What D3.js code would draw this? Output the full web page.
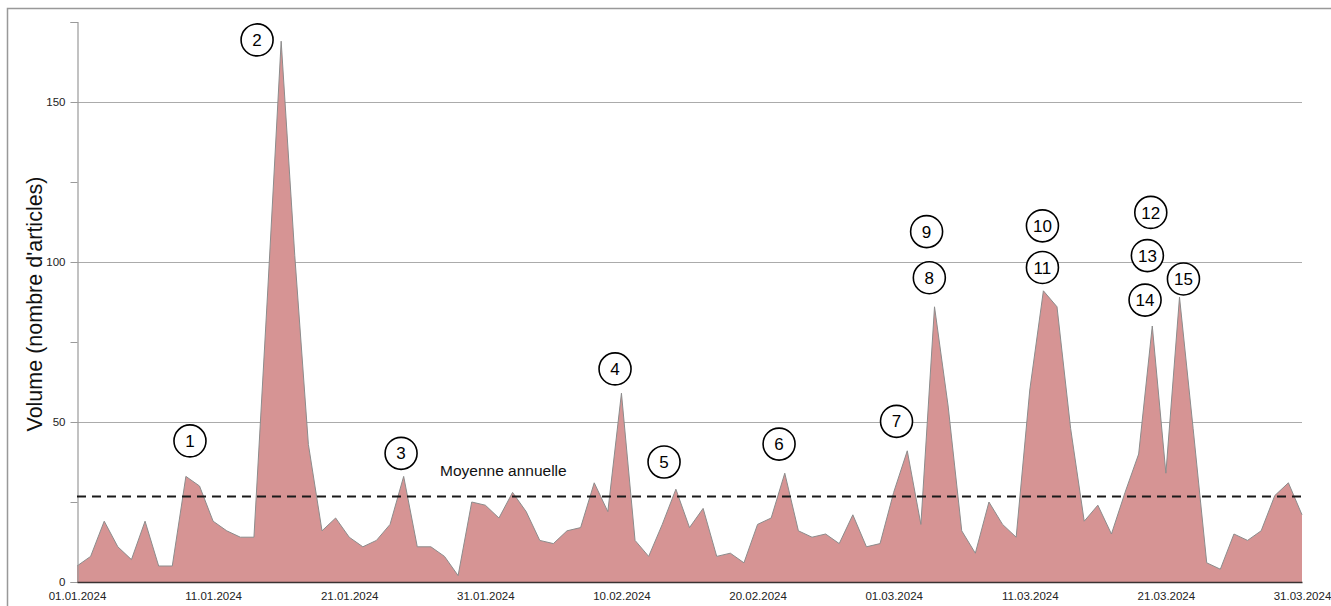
<!DOCTYPE html>
<html>
<head>
<meta charset="utf-8">
<script src="https://cdn.jsdelivr.net/npm/d3@7"></script>
<style>
  html, body { margin: 0; padding: 0; background: #fff; }
  svg { display: block; font-family: "Liberation Sans", Arial, sans-serif; }
</style>
</head>
<body>
<svg id="chart" width="1331" height="606"></svg>
<script>
// ---- data ----
const startDate = "2024-01-01";
const volumes = [
  5, 8, 19, 11, 7, 19, 5, 5, 33, 30,
  19, 16, 14, 14, 90, 169, 102, 43, 16, 20,
  14, 11, 13, 18, 33, 11, 11, 8, 2, 25,
  24, 20, 28, 22, 13, 12, 16, 17, 31, 22,
  59, 13, 8, 18, 29, 17, 23, 8, 9, 6,
  18, 20, 34, 16, 14, 15, 12, 21, 11, 12,
  28, 41, 18, 86, 55, 16, 9, 25, 18, 14,
  60, 91, 86, 48, 19, 24, 15, 28, 40, 80,
  34, 89, 48, 6, 4, 15, 13, 16, 27, 31,
  21
];
const xTickLabels = ["01.01.2024","11.01.2024","21.01.2024","31.01.2024","10.02.2024",
                     "20.02.2024","01.03.2024","11.03.2024","21.03.2024","31.03.2024"];
const yTickValues = [0, 25, 50, 75, 100, 125, 150, 175];
const yTickLabels = ["0", "", "50", "", "100", "", "150", ""];
const gridValues = [50, 100, 150];
const meanValue = 26.7;
const meanLabel = "Moyenne annuelle";
const yTitle = "Volume (nombre d'articles)";
// annotation markers: [number, day offset from start, value]
const annoNums = [1,2,3,4,5,6,7,8,9,10,11,12,13,14,15];
const annoDays = [8.3,13.23,23.81,39.53,43.13,51.58,60.21,62.62,62.42,70.93,70.93,78.89,78.64,78.47,81.29];
const annoVals = [44.1,169.4,40.2,66.6,37.5,43.1,50.2,95.1,109.5,111.3,98.3,115.5,102.0,88.1,94.7];

// ---- setup ----
const svg = d3.select("#chart");
const M = {left: 77, top: 22, right: 29, bottom: 24};
const W = 1331, H = 606;
const x0 = M.left, x1 = W - M.right, y0 = H - M.bottom, y1 = M.top;

const parse = d3.utcParse("%Y-%m-%d");
const start = parse(startDate);
const DAY = 864e5;
const dayDate = d => new Date(start.getTime() + d * DAY);
const fmt = d3.utcFormat("%d.%m.%Y");
const series = volumes.map((v, i) => ({date: dayDate(i), v}));

const x = d3.scaleUtc().domain([start, dayDate(volumes.length - 1)]).range([x0, x1]);
const y = d3.scaleLinear().domain([0, 175]).range([y0, y1]);

// outer frame
svg.append("rect").attr("x", 7.5).attr("y", 8.5).attr("width", 1340).attr("height", 640)
  .attr("fill", "none").attr("stroke", "#999").attr("stroke-width", 1.5);

// gridlines
svg.append("g").selectAll("line").data(gridValues).join("line")
  .attr("x1", x0).attr("x2", x1)
  .attr("y1", d => Math.round(y(d)) + 0.5).attr("y2", d => Math.round(y(d)) + 0.5)
  .attr("stroke", "#ababab").attr("stroke-width", 1);

// area
const area = d3.area().x(d => x(d.date)).y0(y(0)).y1(d => y(d.v));
svg.append("path").datum(series).attr("d", area).attr("fill", "#d69494");
const line = d3.line().x(d => x(d.date)).y(d => y(d.v));
svg.append("path").datum(series).attr("d", line)
  .attr("fill", "none").attr("stroke", "#8c8c8c").attr("stroke-width", 1);

// y axis
const yAxis = d3.axisLeft(y).tickValues(yTickValues).tickSize(7).tickPadding(5)
  .tickFormat((d, i) => yTickLabels[i]);
const gy = svg.append("g").attr("transform", `translate(${x0 + 0.5},0)`).call(yAxis);
gy.select(".domain").attr("stroke", "#9a9a9a").attr("stroke-width", 1.2);
gy.selectAll(".tick line").attr("stroke", "#9a9a9a");
gy.selectAll(".tick text").attr("fill", "#222").attr("font-size", 11.5)
  .attr("font-family", "'Liberation Sans', Arial, sans-serif");

// x axis
const xTicks = xTickLabels.map(s => d3.utcParse("%d.%m.%Y")(s));
const xAxis = d3.axisBottom(x).tickValues(xTicks).tickSize(0).tickPadding(10).tickFormat(fmt);
const gx = svg.append("g").attr("transform", `translate(0,${y0})`).call(xAxis);
gx.select(".domain").attr("stroke", "#3a3333").attr("stroke-width", 1.6);
gx.selectAll(".tick text").attr("fill", "#222").attr("font-size", 11.5)
  .attr("font-family", "'Liberation Sans', Arial, sans-serif");

// mean line
svg.append("line")
  .attr("x1", x0).attr("x2", x1).attr("y1", y(meanValue)).attr("y2", y(meanValue))
  .attr("stroke", "#1a1a1a").attr("stroke-width", 2).attr("stroke-dasharray", "9,6");
svg.append("text").attr("x", 440).attr("y", y(meanValue) - 21)
  .attr("font-size", 15.5).attr("fill", "#111").text(meanLabel);

// y title
svg.append("text").attr("transform", `translate(42,${(y0 + y1) / 2 + 2}) rotate(-90)`)
  .attr("text-anchor", "middle").attr("font-size", 21.5).attr("fill", "#111").text(yTitle);

// annotations
const annos = annoNums.map((n, i) => ({n, date: dayDate(annoDays[i]), v: annoVals[i]}));
const ga = svg.append("g").selectAll("g").data(annos).join("g")
  .attr("transform", d => `translate(${x(d.date)},${y(d.v)})`);
ga.append("circle").attr("r", 16).attr("fill", "#fff").attr("stroke", "#000").attr("stroke-width", 1.6);
ga.append("text").attr("text-anchor", "middle").attr("dy", "0.36em")
  .attr("font-size", 17).attr("fill", "#000").text(d => d.n);
</script>
</body>
</html>
